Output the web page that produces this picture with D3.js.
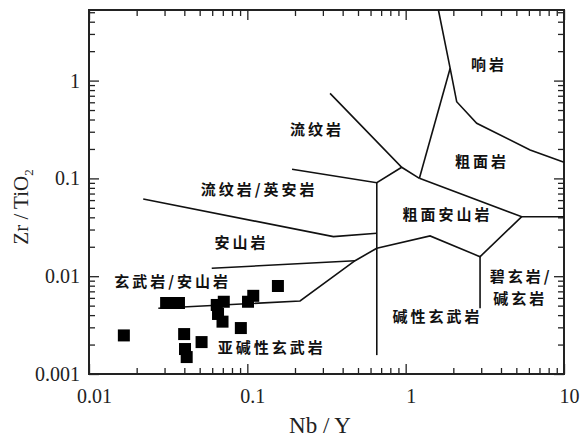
<!DOCTYPE html>
<html>
<head>
<meta charset="utf-8">
<script src="https://cdn.jsdelivr.net/npm/d3@7"></script>
<style>
  body { margin: 0; background: #fff; }
  svg { display: block; }
</style>
</head>
<body>
<svg id="chart" width="582" height="439"></svg>
<script>
// sample points (Nb/Y, Zr/TiO2)
const nbY    = [0.0166, 0.0307, 0.0334, 0.0370, 0.0399, 0.0404, 0.0414, 0.0514,
                0.0641, 0.0710, 0.0653, 0.0697, 0.0910, 0.101, 0.109, 0.156];
const zrTiO2 = [0.00248, 0.00532, 0.00532, 0.00532, 0.00256, 0.00180, 0.00149, 0.00212,
                0.00508, 0.00548, 0.00411, 0.00343, 0.00295, 0.00548, 0.00630, 0.00794];

// field boundaries, [Nb/Y, Zr/TiO2]
const phonoliteLine   = [[1.61, 5.27], [1.91, 1.336], [2.10, 0.608], [2.81, 0.366], [6.11, 0.195], [10, 0.146]];
const rhyoliteLine    = [[0.333, 0.741], [0.944, 0.130], [1.221, 0.1002]];
const trachyteLine    = [[1.221, 0.1002], [1.91, 1.336]];
const trachyAndLine   = [[1.221, 0.1002], [5.41, 0.0406], [10, 0.0406]];
const basaniteLine    = [[0.657, 0.0193], [1.426, 0.0258], [2.95, 0.01583], [5.41, 0.0406]];
const alkBasaltLine   = [[2.95, 0.01583], [2.95, 0.0047]];
const subAlkLine      = [[0.0274, 0.0047], [0.2153, 0.00558], [0.479, 0.01441], [0.657, 0.0193]];
const andesiteLine    = [[0.0596, 0.01205], [0.479, 0.01441]];
const rhyodaciteLow   = [[0.0220, 0.0615], [0.3495, 0.0254], [0.657, 0.0275]];
const rhyodaciteHigh  = [[0.1916, 0.1239], [0.657, 0.0904], [0.944, 0.130]];
const verticalLine    = [[0.657, 0.0904], [0.657, 0.00156]];

const boundaries = [phonoliteLine, rhyoliteLine, trachyteLine, trachyAndLine, basaniteLine,
                    alkBasaltLine, subAlkLine, andesiteLine, rhyodaciteLow, rhyodaciteHigh, verticalLine];

// field names
const fieldNames = ["响岩", "流纹岩", "粗面岩", "流纹岩/英安岩", "粗面安山岩", "安山岩",
                    "玄武岩/安山岩", "亚碱性玄武岩", "碱性玄武岩", "碧玄岩/", "碱玄岩"];
const fieldX     = [3.36, 0.275, 3.04, 0.1186, 1.84, 0.0919, 0.0337, 0.1426, 1.59, 5.36, 5.30];
const fieldY     = [1.445, 0.313, 0.147, 0.076, 0.0423, 0.0219, 0.00872, 0.001845, 0.00383, 0.00985, 0.00596];

const svg = d3.select("#chart"),
      m   = {top:10, right:18, bottom:65, left:89},
      W   = +svg.attr("width"),
      H   = +svg.attr("height");

const x = d3.scaleLog().domain([0.01, 10]).range([m.left, W - m.right]);
const y = d3.scaleLog().domain([0.001, 5.27]).range([H - m.bottom, m.top]);

const isMajor = v => Math.abs(Math.log10(v) - Math.round(Math.log10(v))) < 1e-6;
const fmt = v => isMajor(v) ? String(+v.toPrecision(1)) : "";
const serif = "'Liberation Serif', 'Times New Roman', serif";

// axes, ticks pointing inward
function styleAxis(g, vertical, sign) {
  g.select(".domain").remove();
  g.selectAll(".tick line")
    .attr("stroke", "#222")
    .attr("stroke-width", 1.3)
    .attr(vertical ? "x2" : "y2", d => sign * (isMajor(d) ? 10 : 6));
  g.selectAll(".tick text")
    .attr("fill", "#222")
    .style("font-family", serif)
    .style("font-size", "20px");
}

svg.append("g")
  .attr("transform", `translate(0,${H - m.bottom})`)
  .call(d3.axisBottom(x).tickValues(x.ticks()).tickFormat(fmt).tickSize(0).tickPadding(15))
  .call(g => styleAxis(g, false, -1))
  .selectAll(".tick text").attr("dx", 5);

svg.append("g")
  .attr("transform", `translate(0,${m.top})`)
  .call(d3.axisTop(x).tickValues(x.ticks()).tickFormat("").tickSize(0))
  .call(g => styleAxis(g, false, 1));

svg.append("g")
  .attr("transform", `translate(${m.left},0)`)
  .call(d3.axisLeft(y).tickValues(y.ticks()).tickFormat(fmt).tickSize(0).tickPadding(9))
  .call(g => styleAxis(g, true, 1));

svg.append("g")
  .attr("transform", `translate(${W - m.right},0)`)
  .call(d3.axisRight(y).tickValues(y.ticks()).tickFormat("").tickSize(0))
  .call(g => styleAxis(g, true, -1));

// frame
svg.append("rect")
  .attr("x", m.left).attr("y", m.top)
  .attr("width", W - m.left - m.right)
  .attr("height", H - m.top - m.bottom)
  .attr("fill", "none")
  .attr("stroke", "#222")
  .attr("stroke-width", 2);

// boundaries
const line = d3.line().x(d => x(d[0])).y(d => y(d[1]));
svg.append("g").selectAll("path")
  .data(boundaries).enter().append("path")
    .attr("d", line)
    .attr("fill", "none")
    .attr("stroke", "#111")
    .attr("stroke-width", 1.6);

// field labels
svg.append("g").selectAll("text")
  .data(fieldNames).enter().append("text")
    .attr("x", (d, i) => x(fieldX[i]))
    .attr("y", (d, i) => y(fieldY[i]))
    .attr("dy", "0.36em")
    .attr("text-anchor", "middle")
    .attr("fill", "#111")
    .style("font-family", "'Noto Sans CJK SC', sans-serif")
    .style("font-weight", "700")
    .style("font-size", "15px")
    .style("letter-spacing", "3px")
    .text(d => d);

// samples
const s = 12;
svg.append("g").selectAll("rect")
  .data(nbY).enter().append("rect")
    .attr("x", (d, i) => x(d) - s / 2)
    .attr("y", (d, i) => y(zrTiO2[i]) - s / 2)
    .attr("width", s)
    .attr("height", s)
    .attr("fill", "#000");

// axis titles
svg.append("text")
  .attr("x", 320).attr("y", 433)
  .attr("text-anchor", "middle")
  .attr("fill", "#222")
  .style("font-family", serif)
  .style("font-size", "23px")
  .text("Nb / Y");

const yt = svg.append("text")
  .attr("transform", "translate(28,207) rotate(-90)")
  .attr("text-anchor", "middle")
  .attr("fill", "#222")
  .style("font-family", serif)
  .style("font-size", "21px");
yt.append("tspan").text("Zr / TiO");
yt.append("tspan").attr("dy", 5).style("font-size", "13px").text("2");
</script>
</body>
</html>
